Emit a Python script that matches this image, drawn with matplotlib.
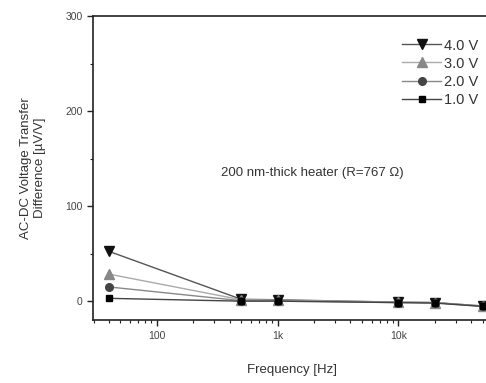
import matplotlib
matplotlib.use('Agg')
import matplotlib.pyplot as plt
from matplotlib.ticker import FixedLocator, FixedFormatter, LogLocator, NullFormatter

plt.rcParams['font.family'] = ['Liberation Sans', 'DejaVu Sans']

# frequencies in Hz
freq = [40, 500, 1000, 10000, 20000, 50000]
v4 = [52.5, 2.0, 1.5, -1.0, -1.5, -5.0]
v3 = [28.5, 1.5, 1.0, -1.0, -1.5, -5.0]
v2 = [15.0, 0.5, 0.5, -1.5, -1.5, -5.5]
v1 = [3.0, 0.0, 0.0, -1.5, -2.0, -5.5]

series = [
    ('4.0 V', v4, 'v', 6.5, '#555555', '#111111'),
    ('3.0 V', v3, '^', 6.5, '#aaaaaa', '#888888'),
    ('2.0 V', v2, 'o', 5.5, '#888888', '#444444'),
    ('1.0 V', v1, 's', 5, '#444444', '#000000'),
]

fig = plt.figure(figsize=(4.86, 3.83), dpi=100)
ax = fig.add_axes([0.191, 0.164, 0.82, 0.794])

for label, vals, marker, ms, lc, mc in series:
    ax.plot(freq, vals, color=lc, lw=1.0, marker=marker, markersize=ms,
            markerfacecolor=mc, markeredgecolor=mc, label=label)

ax.set_xscale('log')
ax.set_xlim(29.5, 59000)
ax.set_ylim(-20, 300)

ax.xaxis.set_major_locator(FixedLocator([100, 1000, 10000]))
ax.xaxis.set_major_formatter(FixedFormatter(['100', '1k', '10k']))
ax.xaxis.set_minor_locator(LogLocator(base=10, subs=range(2, 10)))
ax.xaxis.set_minor_formatter(NullFormatter())
ax.set_yticks([0, 100, 200, 300])
ax.set_yticks([50, 150, 250], minor=True)

ax.tick_params(which='major', direction='out', length=4, width=1, labelsize=7.5, colors='#222222', labelcolor='#444444')
ax.tick_params(which='minor', direction='out', length=2.5, width=0.8, colors='#222222')
for s in ax.spines.values():
    s.set_linewidth(1.2)
    s.set_color('#222222')
ax.spines['right'].set_visible(False)

ax.set_xlabel('Frequency [Hz]', fontsize=9.5, color='#333333', labelpad=17)
ax.set_ylabel('AC-DC Voltage Transfer\nDifference [µV/V]', fontsize=9.5, color='#333333', labelpad=14)

ax.text(0.55, 0.485, '200 nm-thick heater (R=767 Ω)', transform=ax.transAxes,
        ha='center', va='center', fontsize=9.5, color='#333333')

ax.legend(loc='upper right', bbox_to_anchor=(0.99, 0.955), frameon=False, fontsize=10.5,
          handlelength=2.7, handletextpad=0.2, labelspacing=0.28, borderaxespad=0.2,
          labelcolor='#333333')

fig.savefig('out.png', dpi=100)
